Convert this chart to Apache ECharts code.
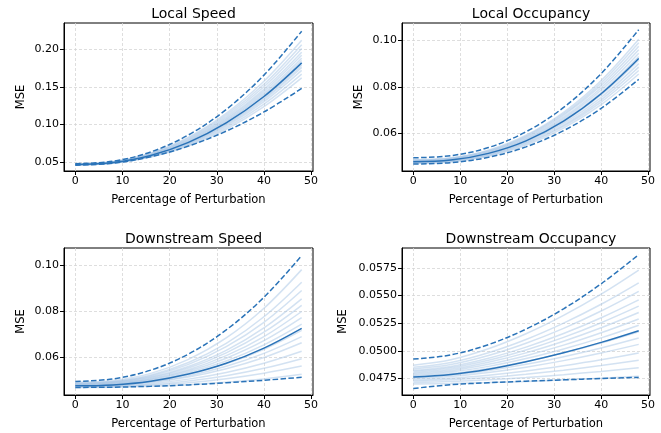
<!DOCTYPE html>
<html>
<head>
<meta charset="utf-8">
<script src="https://cdn.jsdelivr.net/npm/echarts@6/dist/echarts.min.js"></script>
<style>
  html, body { margin: 0; padding: 0; background: #fff; }
  #chart { width: 661px; height: 433px; }
</style>
</head>
<body>
<div id="chart"></div>
<script>
// x positions (percentage of perturbation) where the curves were read
const xValues = [0, 8, 16, 24, 32, 40, 48];
const xTicks = [0, 10, 20, 30, 40, 50];

const titles = ['Local Speed', 'Local Occupancy', 'Downstream Speed', 'Downstream Occupancy'];

// Local Speed
const lsMean = [0.0470, 0.0496, 0.0590, 0.0764, 0.1023, 0.1373, 0.1820];
const lsUpper = [0.0480, 0.0514, 0.0637, 0.0863, 0.1201, 0.1657, 0.2240];
const lsLower = [0.0460, 0.0488, 0.0573, 0.0715, 0.0913, 0.1168, 0.1480];
const lsRuns = [
  [0.0465, 0.0487, 0.0568, 0.0716, 0.0938, 0.1238, 0.1620],
  [0.0466, 0.0489, 0.0573, 0.0728, 0.0959, 0.1271, 0.1670],
  [0.0467, 0.0491, 0.0579, 0.0740, 0.0980, 0.1305, 0.1720],
  [0.0468, 0.0493, 0.0583, 0.0749, 0.0997, 0.1332, 0.1760],
  [0.0469, 0.0495, 0.0587, 0.0756, 0.1010, 0.1353, 0.1790],
  [0.0469, 0.0495, 0.0590, 0.0763, 0.1023, 0.1373, 0.1820],
  [0.0470, 0.0497, 0.0593, 0.0770, 0.1036, 0.1393, 0.1850],
  [0.0471, 0.0498, 0.0597, 0.0778, 0.1048, 0.1414, 0.1880],
  [0.0472, 0.0500, 0.0601, 0.0787, 0.1065, 0.1441, 0.1920],
  [0.0473, 0.0502, 0.0606, 0.0797, 0.1082, 0.1468, 0.1960],
  [0.0474, 0.0504, 0.0611, 0.0808, 0.1103, 0.1502, 0.2010],
  [0.0475, 0.0506, 0.0616, 0.0820, 0.1125, 0.1535, 0.2060],
  [0.0476, 0.0508, 0.0623, 0.0834, 0.1150, 0.1576, 0.2120]
];

// Local Occupancy
const loMean = [0.0477, 0.0484, 0.0513, 0.0567, 0.0652, 0.0770, 0.0922];
const loUpper = [0.0494, 0.0503, 0.0538, 0.0606, 0.0711, 0.0857, 0.1046];
const loLower = [0.0467, 0.0473, 0.0496, 0.0541, 0.0611, 0.0707, 0.0832];
const loRuns = [
  [0.0470, 0.0476, 0.0501, 0.0548, 0.0622, 0.0723, 0.0855],
  [0.0472, 0.0478, 0.0504, 0.0553, 0.0629, 0.0734, 0.0870],
  [0.0473, 0.0480, 0.0506, 0.0557, 0.0635, 0.0744, 0.0885],
  [0.0475, 0.0482, 0.0509, 0.0561, 0.0642, 0.0754, 0.0900],
  [0.0476, 0.0483, 0.0511, 0.0565, 0.0649, 0.0765, 0.0915],
  [0.0478, 0.0485, 0.0514, 0.0570, 0.0656, 0.0775, 0.0930],
  [0.0480, 0.0488, 0.0517, 0.0574, 0.0663, 0.0786, 0.0945],
  [0.0481, 0.0489, 0.0519, 0.0578, 0.0669, 0.0796, 0.0960],
  [0.0483, 0.0491, 0.0522, 0.0583, 0.0677, 0.0806, 0.0975],
  [0.0484, 0.0492, 0.0524, 0.0587, 0.0683, 0.0817, 0.0990],
  [0.0486, 0.0494, 0.0527, 0.0591, 0.0690, 0.0827, 0.1005]
];

// Downstream Speed
const dsMean = [0.0475, 0.0479, 0.0495, 0.0526, 0.0573, 0.0639, 0.0725];
const dsUpper = [0.0494, 0.0505, 0.0543, 0.0613, 0.0718, 0.0860, 0.1041];
const dsLower = [0.0468, 0.0469, 0.0473, 0.0479, 0.0488, 0.0499, 0.0512];
const dsRuns = [
  [0.0468, 0.0469, 0.0473, 0.0480, 0.0490, 0.0505, 0.0525],
  [0.0470, 0.0471, 0.0477, 0.0488, 0.0506, 0.0530, 0.0561],
  [0.0471, 0.0473, 0.0481, 0.0496, 0.0519, 0.0551, 0.0593],
  [0.0473, 0.0475, 0.0485, 0.0504, 0.0533, 0.0573, 0.0625],
  [0.0475, 0.0478, 0.0490, 0.0513, 0.0549, 0.0598, 0.0662],
  [0.0476, 0.0479, 0.0493, 0.0519, 0.0560, 0.0616, 0.0689],
  [0.0477, 0.0481, 0.0496, 0.0526, 0.0571, 0.0634, 0.0716],
  [0.0479, 0.0483, 0.0500, 0.0533, 0.0583, 0.0653, 0.0743],
  [0.0480, 0.0485, 0.0503, 0.0539, 0.0595, 0.0671, 0.0771],
  [0.0481, 0.0486, 0.0506, 0.0545, 0.0606, 0.0689, 0.0798],
  [0.0483, 0.0489, 0.0510, 0.0552, 0.0618, 0.0708, 0.0825],
  [0.0484, 0.0490, 0.0513, 0.0559, 0.0629, 0.0727, 0.0853],
  [0.0486, 0.0493, 0.0518, 0.0568, 0.0645, 0.0751, 0.0889],
  [0.0487, 0.0494, 0.0522, 0.0576, 0.0659, 0.0775, 0.0925],
  [0.0490, 0.0498, 0.0529, 0.0590, 0.0683, 0.0812, 0.0980]
];

// Downstream Occupancy
const doMean = [0.04762, 0.04786, 0.04834, 0.04901, 0.04982, 0.05076, 0.05182];
const doUpper = [0.04925, 0.04963, 0.05056, 0.05196, 0.05380, 0.05606, 0.05870];
const doLower = [0.04659, 0.04693, 0.04711, 0.04725, 0.04737, 0.04749, 0.04759];
const doRuns = [
  [0.04700, 0.04704, 0.04712, 0.04723, 0.04737, 0.04752, 0.04770],
  [0.04714, 0.04722, 0.04737, 0.04758, 0.04784, 0.04813, 0.04847],
  [0.04726, 0.04737, 0.04758, 0.04788, 0.04824, 0.04866, 0.04914],
  [0.04737, 0.04751, 0.04779, 0.04817, 0.04865, 0.04919, 0.04981],
  [0.04751, 0.04768, 0.04804, 0.04852, 0.04911, 0.04980, 0.05058],
  [0.04761, 0.04781, 0.04822, 0.04878, 0.04947, 0.05026, 0.05116],
  [0.04771, 0.04794, 0.04840, 0.04904, 0.04981, 0.05071, 0.05173],
  [0.04782, 0.04808, 0.04859, 0.04930, 0.05017, 0.05117, 0.05231],
  [0.04792, 0.04820, 0.04878, 0.04956, 0.05051, 0.05163, 0.05288],
  [0.04802, 0.04833, 0.04896, 0.04981, 0.05086, 0.05208, 0.05346],
  [0.04812, 0.04846, 0.04914, 0.05007, 0.05121, 0.05254, 0.05404],
  [0.04822, 0.04858, 0.04932, 0.05033, 0.05156, 0.05299, 0.05461],
  [0.04836, 0.04876, 0.04957, 0.05068, 0.05203, 0.05360, 0.05538],
  [0.04850, 0.04894, 0.04982, 0.05102, 0.05250, 0.05421, 0.05615],
  [0.04870, 0.04919, 0.05018, 0.05154, 0.05320, 0.05512, 0.05730]
];

const yTicks = [
  [0.05, 0.10, 0.15, 0.20],
  [0.06, 0.08, 0.10],
  [0.06, 0.08, 0.10],
  [0.0475, 0.0500, 0.0525, 0.0550, 0.0575]
];
const yDecimals = [2, 2, 2, 4];
const yRanges = [[0.0384, 0.2349], [0.0437, 0.1075], [0.0435, 0.1074], [0.0460, 0.0593]];

const panels = [
  { mean: lsMean, upper: lsUpper, lower: lsLower, runs: lsRuns },
  { mean: loMean, upper: loUpper, lower: loLower, runs: loRuns },
  { mean: dsMean, upper: dsUpper, lower: dsLower, runs: dsRuns },
  { mean: doMean, upper: doUpper, lower: doLower, runs: doRuns }
];

const boxes = [
  { left: 64, top: 23, width: 249, height: 148 },
  { left: 402, top: 23, width: 248, height: 148 },
  { left: 64, top: 248, width: 249, height: 147 },
  { left: 402, top: 248, width: 248, height: 147 }
];
const yNameGaps = [37, 37, 37, 53];

const mainColor = '#2a73b8';
const fontFamily = 'DejaVu Sans';

const toPairs = (vals) => xValues.map((x, i) => [x, vals[i]]);

const chart = echarts.init(document.getElementById('chart'), null, { renderer: 'canvas' });

const grid = [];
const xAxis = [];
const yAxis = [];
const title = [];
const series = [];

panels.forEach((p, k) => {
  const b = boxes[k];
  grid.push({
    left: b.left, top: b.top, width: b.width, height: b.height,
    show: true, borderColor: '#000', borderWidth: 1, backgroundColor: 'transparent'
  });
  title.push({
    text: titles[k],
    left: b.left + b.width / 2,
    top: b.top - 21,
    textAlign: 'center',
    textStyle: { fontFamily, fontSize: 14, fontWeight: 'normal', color: '#000' }
  });
  xAxis.push({
    type: 'value', gridIndex: k, min: -2.4, max: 50.4,
    name: 'Percentage of Perturbation', nameLocation: 'middle', nameGap: 23,
    nameTextStyle: { fontFamily, fontSize: 11.5, color: '#000' },
    axisLine: { show: true, onZero: false, lineStyle: { color: '#000', width: 1 } },
    axisTick: { show: true, customValues: xTicks, length: 4, lineStyle: { color: '#000' } },
    axisLabel: { customValues: xTicks, fontFamily, fontSize: 11, color: '#000', margin: 5 },
    splitLine: { show: true, lineStyle: { type: [3, 2], color: '#d6d6d6', width: 0.8 } }
  });
  yAxis.push({
    type: 'value', gridIndex: k, min: yRanges[k][0], max: yRanges[k][1],
    name: 'MSE', nameLocation: 'middle', nameGap: yNameGaps[k],
    nameTextStyle: { fontFamily, fontSize: 11.5, color: '#000' },
    axisLine: { show: true, onZero: false, lineStyle: { color: '#000', width: 1 } },
    axisTick: { show: true, customValues: yTicks[k], length: 4, lineStyle: { color: '#000' } },
    axisLabel: {
      customValues: yTicks[k], fontFamily, fontSize: 11, color: '#000', margin: 5,
      formatter: (v) => Number(v).toFixed(yDecimals[k])
    },
    splitLine: { show: true, lineStyle: { type: [3, 2], color: '#d6d6d6', width: 0.8 } }
  });

  p.runs.forEach((run) => {
    series.push({
      type: 'line', xAxisIndex: k, yAxisIndex: k, data: toPairs(run),
      smooth: 0.35, showSymbol: false, silent: true, z: 2,
      lineStyle: { color: '#a8c6e6', width: 1.5, opacity: 0.5 }
    });
  });
  series.push({
    type: 'line', xAxisIndex: k, yAxisIndex: k, data: toPairs(p.upper),
    smooth: 0.35, showSymbol: false, silent: true, z: 4,
    lineStyle: { color: mainColor, width: 1.5, type: [5.5, 2.4] }
  });
  series.push({
    type: 'line', xAxisIndex: k, yAxisIndex: k, data: toPairs(p.lower),
    smooth: 0.35, showSymbol: false, silent: true, z: 4,
    lineStyle: { color: mainColor, width: 1.5, type: [5.5, 2.4] }
  });
  series.push({
    type: 'line', xAxisIndex: k, yAxisIndex: k, data: toPairs(p.mean),
    smooth: 0.35, showSymbol: false, silent: true, z: 5,
    lineStyle: { color: mainColor, width: 1.5 }
  });
});

chart.setOption({
  animation: false,
  backgroundColor: '#fff',
  title, grid, xAxis, yAxis, series
});
</script>
</body>
</html>
